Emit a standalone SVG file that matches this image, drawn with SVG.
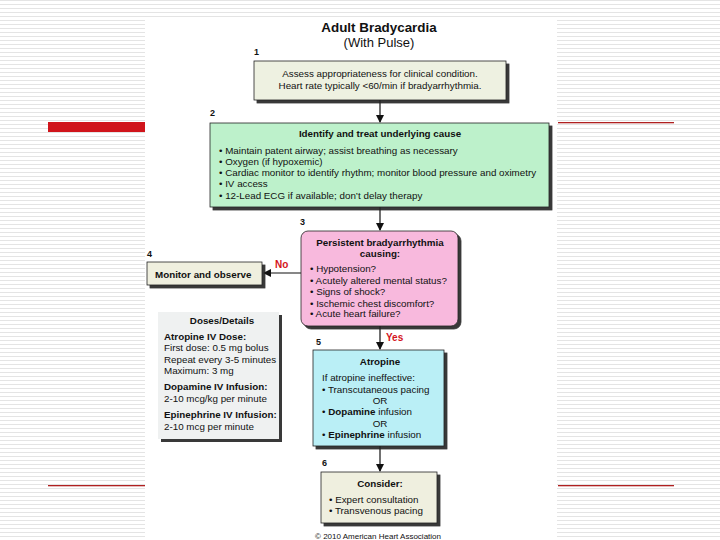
<svg xmlns="http://www.w3.org/2000/svg" width="720" height="540" viewBox="0 0 720 540">
<defs>
<pattern id="stripes" width="8" height="4" patternUnits="userSpaceOnUse">
<rect width="8" height="4" fill="#ffffff"/>
<rect y="0" width="8" height="1" fill="#e4e4e4"/>
</pattern>
<marker id="ah" markerWidth="8" markerHeight="8" refX="7" refY="4" orient="auto" markerUnits="userSpaceOnUse">
<path d="M0,0 L8,4 L0,8 Z" fill="#111"/>
</marker>
<filter id="sh" x="-5%" y="-5%" width="115%" height="120%">
<feOffset dx="3" dy="3" in="SourceAlpha" result="o"/>
<feFlood flood-color="#222" flood-opacity="0.9"/>
<feComposite in2="o" operator="in" result="s"/>
<feMerge><feMergeNode in="s"/><feMergeNode in="SourceGraphic"/></feMerge>
</filter>
</defs>
<style>
text{font-family:"Liberation Sans",Arial,sans-serif;fill:#111;}
.t{font-size:9.8px;}
.b{font-weight:bold;}
.num{font-size:9px;font-weight:bold;}
.box{stroke:#222;stroke-width:0.8;}
.red{fill:#d4141c;font-weight:bold;font-size:10px;}
.c{text-anchor:middle;}
.conn{stroke:#111;stroke-width:1.2;fill:none;}
</style>
<rect width="720" height="540" fill="url(#stripes)"/>
<rect x="145" y="20" width="412" height="520" fill="#ffffff"/>
<rect x="48" y="122" width="97" height="10" fill="#d0141b"/>
<rect x="558" y="122" width="116" height="1.3" fill="#b02020"/>
<rect x="48" y="485" width="97" height="1.3" fill="#b02020"/>
<rect x="558" y="485" width="116" height="1.3" fill="#b02020"/>

<text x="379" y="31.5" class="c b" font-size="13.4">Adult Bradycardia</text>
<text x="379" y="46.5" class="c" font-size="13">(With Pulse)</text>

<g id="connectors">
<line x1="380" y1="100" x2="380" y2="122" class="conn" marker-end="url(#ah)"/>
<line x1="380" y1="207" x2="380" y2="230" class="conn" marker-end="url(#ah)"/>
<line x1="301" y1="273" x2="264" y2="273" class="conn" marker-end="url(#ah)"/>
<line x1="380" y1="326" x2="380" y2="349" class="conn" marker-end="url(#ah)"/>
<line x1="380" y1="446" x2="380" y2="471" class="conn" marker-end="url(#ah)"/>
<text x="275" y="268" class="red">No</text>
<text x="386" y="341" class="red">Yes</text>
</g>

<g id="node1">
<text x="254" y="54.5" class="num">1</text>
<rect x="254" y="61" width="252" height="39" fill="#eef1e1" class="box" filter="url(#sh)"/>
<text x="380" y="76.5" class="t c">Assess appropriateness for clinical condition.</text>
<text x="380" y="88.5" class="t c">Heart rate typically &lt;60/min if bradyarrhythmia.</text>
</g>

<g id="node2">
<text x="210" y="115.5" class="num">2</text>
<rect x="210" y="123" width="339" height="84" fill="#bdf1cb" class="box" filter="url(#sh)"/>
<text x="380" y="137" class="t c b">Identify and treat underlying cause</text>
<text x="219" y="153.5" class="t">•  Maintain patent airway; assist breathing as necessary</text>
<text x="219" y="164.5" class="t">•  Oxygen (if hypoxemic)</text>
<text x="219" y="175.5" class="t">•  Cardiac monitor to identify rhythm; monitor blood pressure and oximetry</text>
<text x="219" y="187" class="t">•  IV access</text>
<text x="219" y="198.5" class="t">•  12-Lead ECG if available; don’t delay therapy</text>
</g>

<g id="node3">
<text x="300" y="225" class="num">3</text>
<rect x="301" y="231" width="157" height="95" rx="7" fill="#f8b9dd" class="box" filter="url(#sh)"/>
<text x="380" y="245.5" class="t c b">Persistent bradyarrhythmia</text>
<text x="380" y="256.5" class="t c b">causing:</text>
<text x="310" y="272" class="t">•  Hypotension?</text>
<text x="310" y="284" class="t">•  Acutely altered mental status?</text>
<text x="310" y="295" class="t">•  Signs of shock?</text>
<text x="310" y="306.5" class="t">•  Ischemic chest discomfort?</text>
<text x="310" y="317" class="t">•  Acute heart failure?</text>
</g>

<g id="node4">
<text x="147" y="256.5" class="num">4</text>
<rect x="147" y="262" width="115" height="23" fill="#efefdf" class="box" filter="url(#sh)"/>
<text x="155" y="277.5" class="t b">Monitor and observe</text>
</g>

<g id="doses">
<rect x="158" y="312" width="121" height="127" fill="#eff1f1" filter="url(#sh)"/>
<text x="222" y="323.5" class="t c b">Doses/Details</text>
<text x="164" y="340" class="t b">Atropine IV Dose:</text>
<text x="164" y="351" class="t">First dose: 0.5 mg bolus</text>
<text x="164" y="362.5" class="t">Repeat every 3-5 minutes</text>
<text x="164" y="374" class="t">Maximum: 3 mg</text>
<text x="164" y="390" class="t b">Dopamine IV Infusion:</text>
<text x="164" y="402" class="t">2-10 mcg/kg per minute</text>
<text x="164" y="417.5" class="t b">Epinephrine IV Infusion:</text>
<text x="164" y="429.5" class="t">2-10 mcg per minute</text>
</g>

<g id="node5">
<text x="316" y="344.5" class="num">5</text>
<rect x="313" y="350" width="131" height="96" fill="#baeff6" class="box" filter="url(#sh)"/>
<text x="380" y="364.5" class="t c b">Atropine</text>
<text x="322" y="381" class="t">If atropine ineffective:</text>
<text x="322" y="392.5" class="t">•  Transcutaneous pacing</text>
<text x="380" y="403.5" class="t c">OR</text>
<text x="322" y="415" class="t">•  <tspan class="b">Dopamine</tspan> infusion</text>
<text x="380" y="426.5" class="t c">OR</text>
<text x="322" y="437.5" class="t">•  <tspan class="b">Epinephrine</tspan> infusion</text>
</g>

<g id="node6">
<text x="322" y="465.5" class="num">6</text>
<rect x="321" y="472" width="116" height="51" fill="#efefdf" class="box" filter="url(#sh)"/>
<text x="380" y="486.5" class="t c b">Consider:</text>
<text x="329" y="502.5" class="t">•  Expert consultation</text>
<text x="329" y="513.5" class="t">•  Transvenous pacing</text>
</g>

<text x="378" y="538.5" class="c" font-size="8">© 2010 American Heart Association</text>
</svg>
